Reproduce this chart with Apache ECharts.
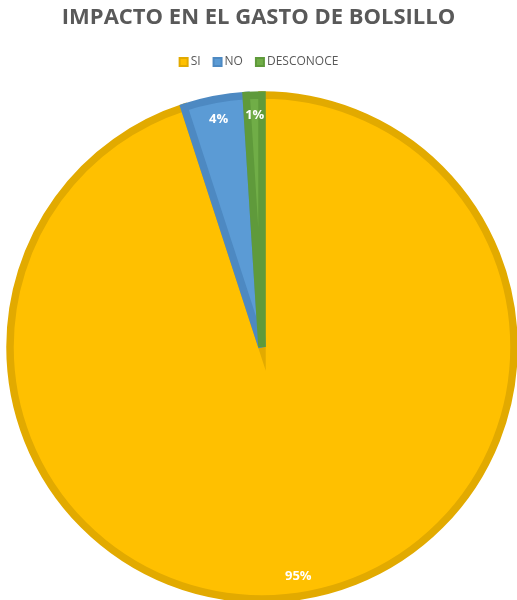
<!DOCTYPE html>
<html>
<head>
<meta charset="utf-8">
<script src="https://cdn.jsdelivr.net/npm/echarts@6/dist/echarts.min.js"></script>
<style>html,body{margin:0;padding:0;background:#fff}#c{width:517px;height:600px}</style>
</head>
<body>
<div id="c"></div>
<script>
var titleText = 'IMPACTO EN EL GASTO DE BOLSILLO';
var categories = ['SI', 'NO', 'DESCONOCE'];
var values = [95, 4, 1];
var fillColors = ['#FFC000', '#5B9BD5', '#70AD47'];
var borderColors = ['#E2AA00', '#4D89C2', '#5F9A3B'];

var chart = echarts.init(document.getElementById('c'), null, {renderer: 'canvas'});
var pieData = categories.map(function (n, i) {
  return {name: n, value: values[i], itemStyle: {color: fillColors[i], borderColor: borderColors[i]}};
});
var labelData = categories.map(function (n, i) {
  return {name: n, value: values[i]};
});
chart.setOption({
  backgroundColor: '#ffffff',
  animation: false,
  title: {
    text: titleText, left: 'center', top: 2,
    textStyle: {fontFamily: 'Open Sans', fontWeight: 'bold', fontSize: 22, color: '#595959'}
  },
  legend: {
    data: categories, top: 51, left: 'center', itemWidth: 8, itemHeight: 8, itemGap: 12,
    icon: 'rect',
    textStyle: {fontFamily: 'Open Sans', fontSize: 12, color: '#595959', padding: [0, 0, 0, -2]}
  },
  series: [
    {
      type: 'pie', name: 'pie', center: [262, 347], radius: [0, 252],
      startAngle: 90, clockwise: true, avoidLabelOverlap: false,
      data: pieData,
      itemStyle: {borderWidth: 7.5, borderJoin: 'miter', borderMiterLimit: 7},
      label: {show: false}, labelLine: {show: false},
      emphasis: {disabled: true}
    },
    {
      type: 'pie', name: 'labels', center: [262, 347], radius: [210, 248],
      startAngle: 90, clockwise: true, silent: true, avoidLabelOverlap: false,
      data: labelData,
      itemStyle: {color: 'rgba(0,0,0,0)', borderWidth: 0},
      label: {show: true, position: 'inside', formatter: '{c}%', color: '#ffffff',
        fontFamily: 'Open Sans', fontWeight: 'bold', fontSize: 13},
      labelLine: {show: false},
      emphasis: {disabled: true}
    }
  ]
});
</script>
</body>
</html>
